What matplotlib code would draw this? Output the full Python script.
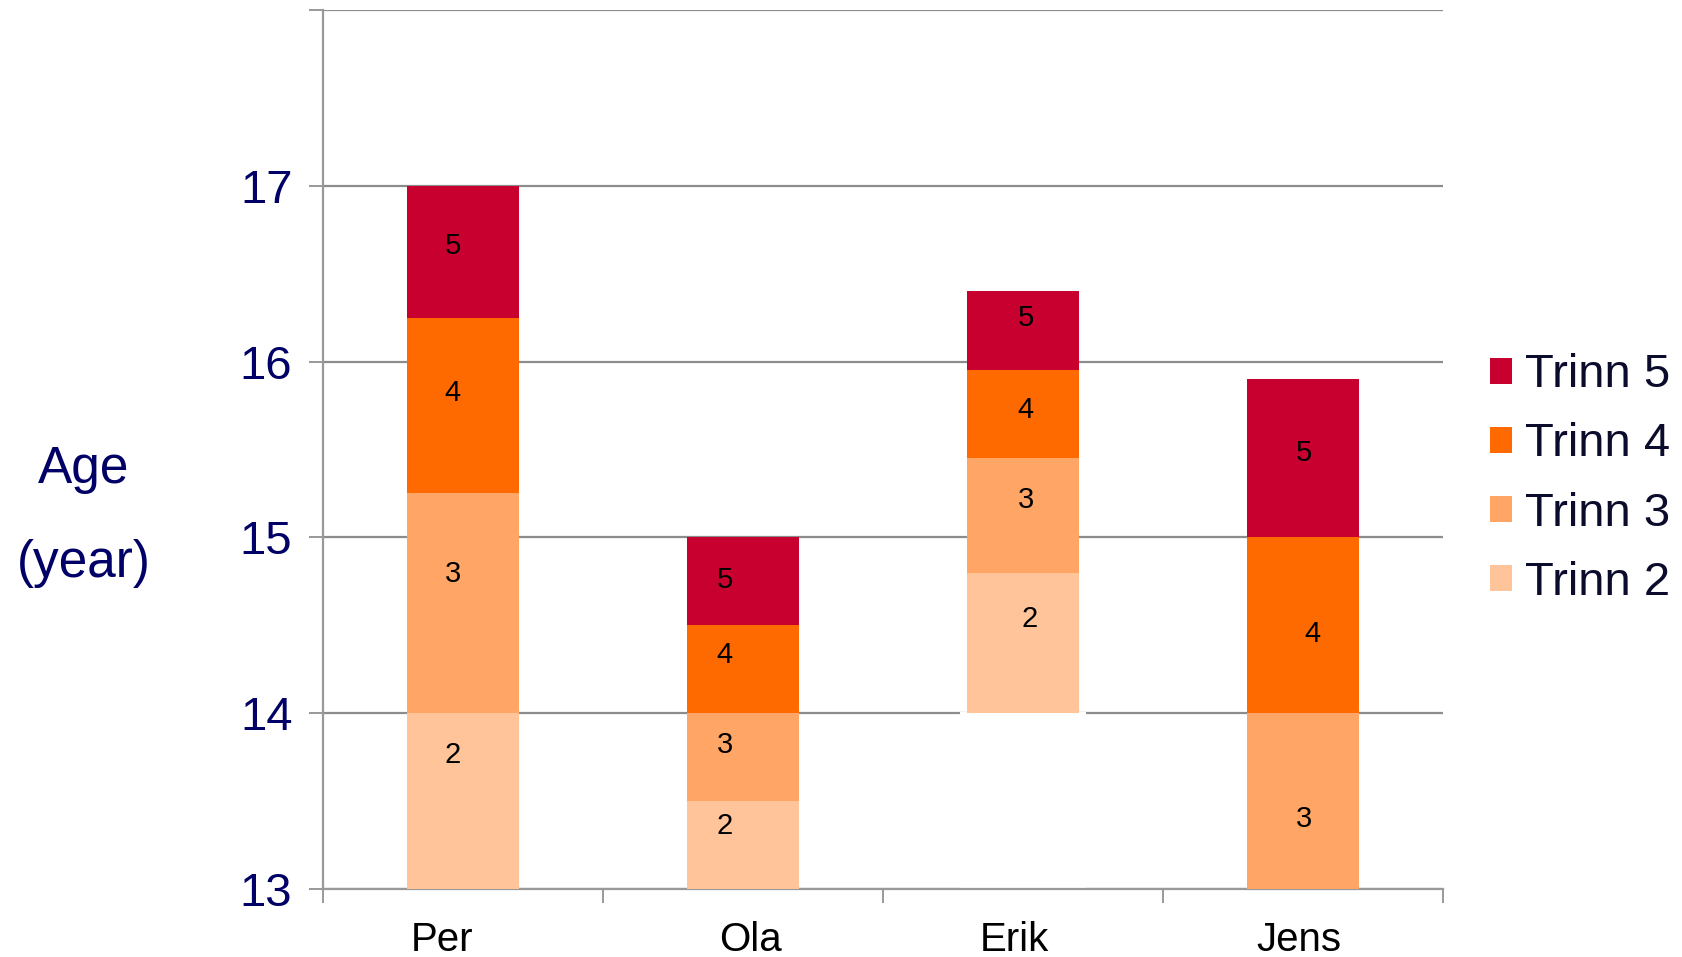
import matplotlib.pyplot as plt
from matplotlib.patches import Patch
from matplotlib.ticker import FixedLocator
from matplotlib.transforms import ScaledTranslation

plt.rcParams['font.family'] = ['Liberation Sans', 'DejaVu Sans']

# Alder ved hvert trinn, per elev
navn = ['Per', 'Ola', 'Erik', 'Jens']
start = [13.0, 13.0, 14.0, 13.0]
trinn2 = [1.0, 0.5, 0.8, 0.0]
trinn3 = [1.25, 0.5, 0.65, 1.0]
trinn4 = [1.0, 0.5, 0.5, 1.0]
trinn5 = [0.75, 0.5, 0.45, 0.9]

serier = [('Trinn 2', '2', trinn2, '#FFC499'),
          ('Trinn 3', '3', trinn3, '#FFA566'),
          ('Trinn 4', '4', trinn4, '#FF6A00'),
          ('Trinn 5', '5', trinn5, '#C8002F')]

# plassering av tallene inne i søylene (x-forskyvning, y)
etikett_dx = {'2': [-0.036, -0.065, 0.025, 0.005],
              '3': [-0.036, -0.065, 0.01, 0.005],
              '4': [-0.036, -0.065, 0.01, 0.032],
              '5': [-0.036, -0.065, 0.01, 0.005]}
etikett_y = {'2': [13.76, 13.36, 14.535, None],
             '3': [14.79, 13.82, 15.21, 13.40],
             '4': [15.82, 14.33, 15.725, 14.45],
             '5': [16.66, 14.76, 16.25, 15.48]}
# forskyvning av navnene under aksen (piksler)
navn_dx = [-21, 8, -9, -4]

fig = plt.figure(figsize=(16.83, 9.57), dpi=100)
ax = fig.add_axes([0.1919, 0.0711, 0.6655, 0.9185])

x = list(range(len(navn)))
bredde = 0.4
grid_farge = '#8C8C8C'

# hvit underlag under Erik sin søyle (dekker gitterlinjen ved 14)
for i in x:
    if start[i] > 13:
        ax.bar(i, start[i] - 13, bottom=13, width=0.44, color='white',
               edgecolor='white', linewidth=1.5, zorder=2)

bunn = list(start)
for navn_s, tall, verdier, farge in serier:
    ax.bar(x, verdier, bottom=bunn, width=bredde, color=farge,
           edgecolor='none', zorder=3)
    for i, v in enumerate(verdier):
        if v > 0:
            ax.text(i + etikett_dx[tall][i], etikett_y[tall][i], tall,
                    ha='center', va='center', fontsize=21, color='black',
                    zorder=4)
    bunn = [b + v for b, v in zip(bunn, verdier)]

ax.set_xlim(-0.5, len(navn) - 0.5)
ax.set_ylim(13, 18)

ax.set_yticks([13, 14, 15, 16, 17, 18])
ax.set_yticklabels(['13', '14', '15', '16', '17', ''])
ax.yaxis.grid(True, color=grid_farge, linewidth=1.6)
ax.set_axisbelow(True)
ax.tick_params(axis='y', direction='out', length=10, width=1.4,
               color='#999999', pad=12, labelsize=34, labelcolor='#000066')

ax.set_xticks(x)
ax.set_xticklabels(navn)
ax.xaxis.set_minor_locator(FixedLocator([-0.5, 0.5, 1.5, 2.5, 3.5]))
ax.tick_params(axis='x', which='major', length=0, pad=23, labelsize=29,
               labelcolor='black')
ax.tick_params(axis='x', which='minor', direction='out', length=10,
               width=1.4, color='#999999')
for lbl, dx in zip(ax.get_xticklabels(), navn_dx):
    lbl.set_transform(lbl.get_transform() +
                      ScaledTranslation(dx / 100, 0, fig.dpi_scale_trans))

for side in ['top', 'right']:
    ax.spines[side].set_visible(False)
for side in ['left', 'bottom']:
    ax.spines[side].set_color('#999999')
    ax.spines[side].set_linewidth(1.6)

fig.text(84 / 1683, 1 - 469 / 957, 'Age', ha='center', va='center',
         fontsize=37, color='#000066')
fig.text(84 / 1683, 1 - 563 / 957, '(year)', ha='center', va='center',
         fontsize=37, color='#000066')

handles = [Patch(facecolor=f, edgecolor='none', label=n)
           for n, _, _, f in reversed(serier)]
leg = fig.legend(handles=handles, loc='center left',
                 bbox_to_anchor=(1490 / 1683, 1 - 479 / 957),
                 frameon=False, fontsize=34, handlelength=0.47,
                 handleheight=0.47, handletextpad=0.28, labelspacing=0.53,
                 borderpad=0, borderaxespad=0)
for t in leg.get_texts():
    t.set_color('#0B0B2B')

fig.savefig('out.png', dpi=100)
